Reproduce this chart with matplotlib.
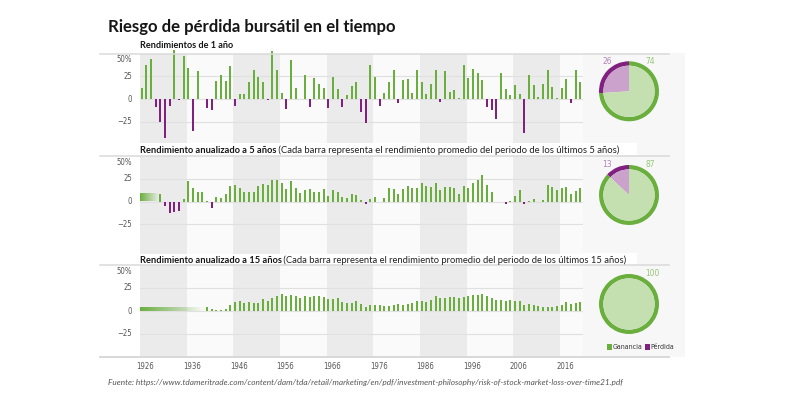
import numpy as np
import matplotlib
matplotlib.use("Agg")
import matplotlib.pyplot as plt
import matplotlib.font_manager as fm
from matplotlib.transforms import Affine2D
from matplotlib.patches import Rectangle
from matplotlib.lines import Line2D

# ---------------- data ----------------
years_1y = list(range(1926, 2021))
ret_1y = [11.6, 37.5, 43.6, -8.4, -24.9, -43.3, -8.2, 54.0, -1.4, 47.7,
          33.9, -35.0, 31.1, -0.4, -9.8, -11.6, 20.3, 25.9, 19.8, 36.4,
          -8.1, 5.7, 5.5, 18.8, 31.7, 24.0, 18.4, -1.0, 52.6, 31.6,
          6.6, -10.8, 43.4, 12.0, 0.5, 26.9, -8.7, 22.8, 16.5, 12.5,
          -10.1, 24.0, 11.1, -8.5, 4.0, 14.3, 19.0, -14.7, -26.5, 37.2,
          23.8, -7.2, 6.6, 18.4, 32.4, -4.9, 21.4, 22.5, 6.3, 32.2,
          18.5, 5.2, 16.8, 31.5, -3.2, 30.6, 7.7, 10.0, 1.3, 37.4,
          23.1, 33.4, 28.6, 21.0, -9.1, -11.9, -22.1, 28.7, 10.9, 4.9,
          15.8, 5.5, -37.0, 26.5, 15.1, 2.1, 16.0, 32.4, 13.7, 1.4,
          12.0, 21.8, -4.4, 31.5, 18.4]

years_5y = list(range(1930, 2021))
ret_5y = [8.7, -5.1, -12.5, -11.2, -9.9, 3.1, 22.5, 14.3, 10.7, 10.9,
          0.5, -7.5, 4.6, 3.8, 7.7, 17.0, 17.9, 14.9, 10.9, 10.7,
          9.9, 16.7, 19.4, 17.9, 23.9, 23.9, 20.2, 13.6, 22.3, 15.0,
          8.9, 12.8, 13.3, 9.9, 10.7, 13.3, 5.7, 12.4, 10.2, 5.0,
          3.3, 8.4, 7.5, 2.0, -2.4, 3.2, 4.9, -0.2, 4.3, 14.7,
          13.9, 8.1, 14.0, 17.3, 14.8, 14.7, 19.9, 16.5, 15.4, 20.4,
          13.1, 15.4, 15.9, 14.5, 8.7, 16.6, 15.2, 20.2, 24.1, 28.6,
          18.4, 10.7, -0.6, -0.6, -2.3, 0.5, 6.2, 12.8, -2.2, 0.4,
          2.3, -0.2, 1.7, 18.0, 15.5, 12.6, 14.7, 15.8, 8.5, 11.7,
          15.2]

years_15y = list(range(1940, 2021))
ret_15y = [4.1, 2.4, 1.5, 0.7, 2.5, 6.6, 10.1, 11.2, 8.4, 9.7,
           8.9, 8.4, 12.8, 10.7, 13.9, 16.8, 18.2, 15.9, 16.9, 16.4,
           14.0, 16.5, 15.4, 16.6, 16.4, 15.2, 12.8, 13.1, 14.0, 10.2,
           8.4, 8.9, 11.1, 7.3, 4.3, 6.5, 6.3, 6.4, 5.4, 5.6,
           6.7, 7.1, 7.0, 7.7, 8.7, 10.5, 10.8, 9.8, 12.2, 16.6,
           13.9, 14.3, 15.5, 15.7, 14.5, 14.8, 16.8, 17.5, 17.9, 18.9,
           16.0, 13.7, 11.5, 12.2, 10.9, 11.5, 10.6, 10.5, 6.5, 8.0,
           6.8, 5.5, 4.5, 4.7, 4.2, 5.0, 6.7, 9.9, 7.8, 9.0,
           9.9]

pie_loss = [26, 13, 0]
pie_gain = [74, 87, 100]

subtitles_bold = ["Rendimientos de 1 año",
                  "Rendimiento anualizado a 5 años",
                  "Rendimiento anualizado a 15 años"]
subtitles_norm = ["",
                  " (Cada barra representa el rendimiento promedio del periodo de los últimos 5 años)",
                  " (Cada barra representa el rendimiento promedio del periodo de los últimos 15 años)"]
ytick_vals = [25, 0, -25]
ytick_labels = ["25", "0", "\u221225"]
xtick_years = [1926, 1936, 1946, 1956, 1966, 1976, 1986, 1996, 2006, 2016]
legend_labels = ["Ganancia", "Pérdida"]
title = "Riesgo de pérdida bursátil en el tiempo"
source = ("Fuente: https://www.tdameritrade.com/content/dam/tda/retail/marketing/en/pdf/"
          "investment-philosophy/risk-of-stock-market-loss-over-time21.pdf")

# ---------------- style ----------------
GREEN = "#6aaf3d"
PURPLE = "#80207f"
LGREEN = "#c4dfb0"
LPURPLE = "#cba2cb"
BAND = "#ebebeb"
WBAND = "#fafafa"
GRID = "#e0e0e0"
SANS = ["Lato", "DejaVu Sans"]

# pick a narrow/condensed font if one is installed, else Lato
_cond_path = None
for f in fm.fontManager.ttflist:
    if (("Narrow" in f.name or "Condensed" in f.name or
         f.stretch in ("condensed", "semi-condensed")) and
            f.style == "normal" and f.weight in (400, "normal", "regular")):
        _cond_path = f.fname
        break


def cond(size):
    if _cond_path:
        return fm.FontProperties(fname=_cond_path, size=size)
    return fm.FontProperties(family="Lato", size=size * 0.92)


W, H = 800, 401
fig = plt.figure(figsize=(8, 4.01), dpi=100)
fig.patch.set_facecolor("white")
PX = Affine2D().scale(1 / W, -1 / H).translate(0, 1) + fig.transFigure
renderer = fig.canvas.get_renderer()


def axes_px(x0, y0, x1, y1, **kw):
    return fig.add_axes([x0 / W, 1 - y1 / H, (x1 - x0) / W, (y1 - y0) / H], **kw)


def fit(t, target):
    w = t.get_window_extent(renderer).width
    t.set_fontsize(t.get_fontsize() * target / w)
    return t


XL, XR = 140, 583
XMIN, XMAX = 1925.64, 2020.6
TICKC = "#555555"

# pie-area background
fig.add_artist(Rectangle((583, 53), 102, 304, transform=PX, facecolor="#f7f7f7",
                         edgecolor="none", zorder=-5))

# title
fit(fig.text(108, 31.7, title, transform=PX, fontsize=13, fontweight="bold",
             family=SANS, va="baseline", color="#161616"), 289)

panels = [
    dict(top=53.5, bot=143.0, scale=0.91, years=years_1y, vals=ret_1y, grad=None,
         sub_y=48.3, pie_c=(629, 91.3)),
    dict(top=156.0, bot=254.0, scale=0.91, years=years_5y, vals=ret_5y, grad=True,
         sub_y=152.7, pie_c=(629, 195.0)),
    dict(top=265.0, bot=356.7, scale=0.92, years=years_15y, vals=ret_15y, grad=True,
         sub_y=262.7, pie_c=(629, 304.0)),
]

bold_size = None
for i, p in enumerate(panels):
    top, bot, sc = p["top"], p["bot"], p["scale"]
    ymin = 50 - (bot - top) / sc
    ax = axes_px(XL, top, XR, bot)
    ax.set_facecolor(WBAND)
    for s in ax.spines.values():
        s.set_visible(False)
    ax.set_xticks([])
    ax.set_yticks([])
    for k in range(0, 10, 2):
        ax.axvspan(XMIN + 10 * k, XMIN + 10 * (k + 1), color=BAND, lw=0, zorder=0)
    for v in ytick_vals:
        ax.axhline(v, color=GRID, lw=0.8, zorder=1)
    cols = [GREEN if v >= 0 else PURPLE for v in p["vals"]]
    ax.bar(p["years"], p["vals"], width=0.42, color=cols, zorder=3, clip_on=False,
           linewidth=0)
    if p["grad"]:
        g = np.zeros((1, 256, 4))
        rgb = matplotlib.colors.to_rgb(GREEN)
        g[..., 0], g[..., 1], g[..., 2] = rgb
        g[..., 3] = np.linspace(1.0, 0.0, 256)
        ax.imshow(g, extent=[XMIN, p["years"][0] - 0.5, 0, p["vals"][0]],
                  aspect="auto", zorder=2, interpolation="bilinear")
    ax.set_xlim(XMIN, XMAX)
    ax.set_ylim(ymin, 50)

    def ypx(v):
        return top + (50 - v) * sc

    # top line (50 level)
    fig.add_artist(Line2D([100, 669], [top, top], transform=PX, color="#dadada",
                          lw=1.1, zorder=5))
    # y tick labels
    fig.text(132, top + 6.5, "50%", transform=PX, ha="right", va="center",
             fontproperties=cond(5.6), color=TICKC)
    for v, lab in zip(ytick_vals, ytick_labels):
        fig.text(132, ypx(v), lab, transform=PX, ha="right", va="center",
                 fontproperties=cond(5.6), color=TICKC)

    # subtitle
    tb = fig.text(139.5, p["sub_y"], subtitles_bold[i], transform=PX, fontsize=7,
                  fontweight="bold", family=SANS, va="baseline", color="#161616",
                  zorder=6)
    if i == 1:
        fit(tb, 136.5)
        bold_size = tb.get_fontsize()
    if i == 0:
        fit(tb, 93.5)
    if i == 2 and bold_size:
        tb.set_fontsize(bold_size)
    if subtitles_norm[i]:
        fig.add_artist(Rectangle((583, p["sub_y"] - 9.5), 54, 12, transform=PX,
                                 facecolor="white", edgecolor="none", zorder=-4))
        bb = tb.get_window_extent(renderer)
        x_end = bb.x1
        tn = fig.text(x_end, H - p["sub_y"], subtitles_norm[i], transform=None,
                      fontsize=7, family=SANS, va="baseline", color="#222222",
                      zorder=6)
        fit(tn, (619.3 if i == 1 else 629.3) - x_end)

    # pie
    cx, cy = p["pie_c"]
    R = 30
    pa = axes_px(cx - R, cy - R, cx + R, cy + R)
    pa.set_facecolor("none")
    vals = [pie_loss[i], pie_gain[i]]
    ring_cols = [PURPLE, GREEN]
    in_cols = [LPURPLE, LGREEN]
    keep = [j for j in range(2) if vals[j] > 0]
    pa.pie([vals[j] for j in keep], colors=[ring_cols[j] for j in keep],
           startangle=90, radius=1.0, wedgeprops=dict(width=0.145, linewidth=0))
    pa.pie([vals[j] for j in keep], colors=[in_cols[j] for j in keep],
           startangle=90, radius=0.855, wedgeprops=dict(linewidth=0))
    pa.set_xlim(-1, 1)
    pa.set_ylim(-1, 1)
    pa.axis("off")
    if pie_loss[i] > 0:
        fig.text(cx - 21.5, cy - 30.3, str(pie_loss[i]), transform=PX, ha="center",
                 va="center", fontproperties=cond(6.0), color="#b383b4")
        fig.text(cx + 21, cy - 30.3, str(pie_gain[i]), transform=PX, ha="center",
                 va="center", fontproperties=cond(6.0), color="#97c776")
    else:
        fig.text(cx + 23, cy - 31, str(pie_gain[i]), transform=PX, ha="center",
                 va="center", fontproperties=cond(6.0), color="#97c776")

# bottom line
fig.add_artist(Line2D([100, 669], [356.7, 356.7], transform=PX, color="#d6d6d6",
                      lw=1.3, zorder=5))

# x tick labels
for yr in xtick_years:
    xp = XL + (yr + 0.8 - XMIN) * (XR - XL) / (XMAX - XMIN)
    fig.text(xp, 366.5, str(yr), transform=PX, ha="center", va="center",
             fontproperties=cond(5.6), color=TICKC)

# legend
leg_x = [(606.5, 612.8, 642.7), (644.5, 650.8, 677.0)]
leg_texts = []
for (sx, tx, tend), lab, c in zip(leg_x, legend_labels, [GREEN, PURPLE]):
    fig.add_artist(Rectangle((sx, 344.3), 5.2, 5.2, transform=PX, facecolor=c,
                             edgecolor="none", zorder=6))
    leg_texts.append(fig.text(tx, 347, lab, transform=PX, va="center", ha="left",
                              fontproperties=cond(5.6), color="#333333"))
fit(leg_texts[0], 642.7 - 612.8)
leg_texts[1].set_fontsize(leg_texts[0].get_fontsize())

# source
fit(fig.text(108, 385, source, transform=PX, fontsize=5, style="italic",
             family=SANS, va="baseline", color="#555555"), 524)

fig.savefig("out.png", dpi=100, facecolor="white")
